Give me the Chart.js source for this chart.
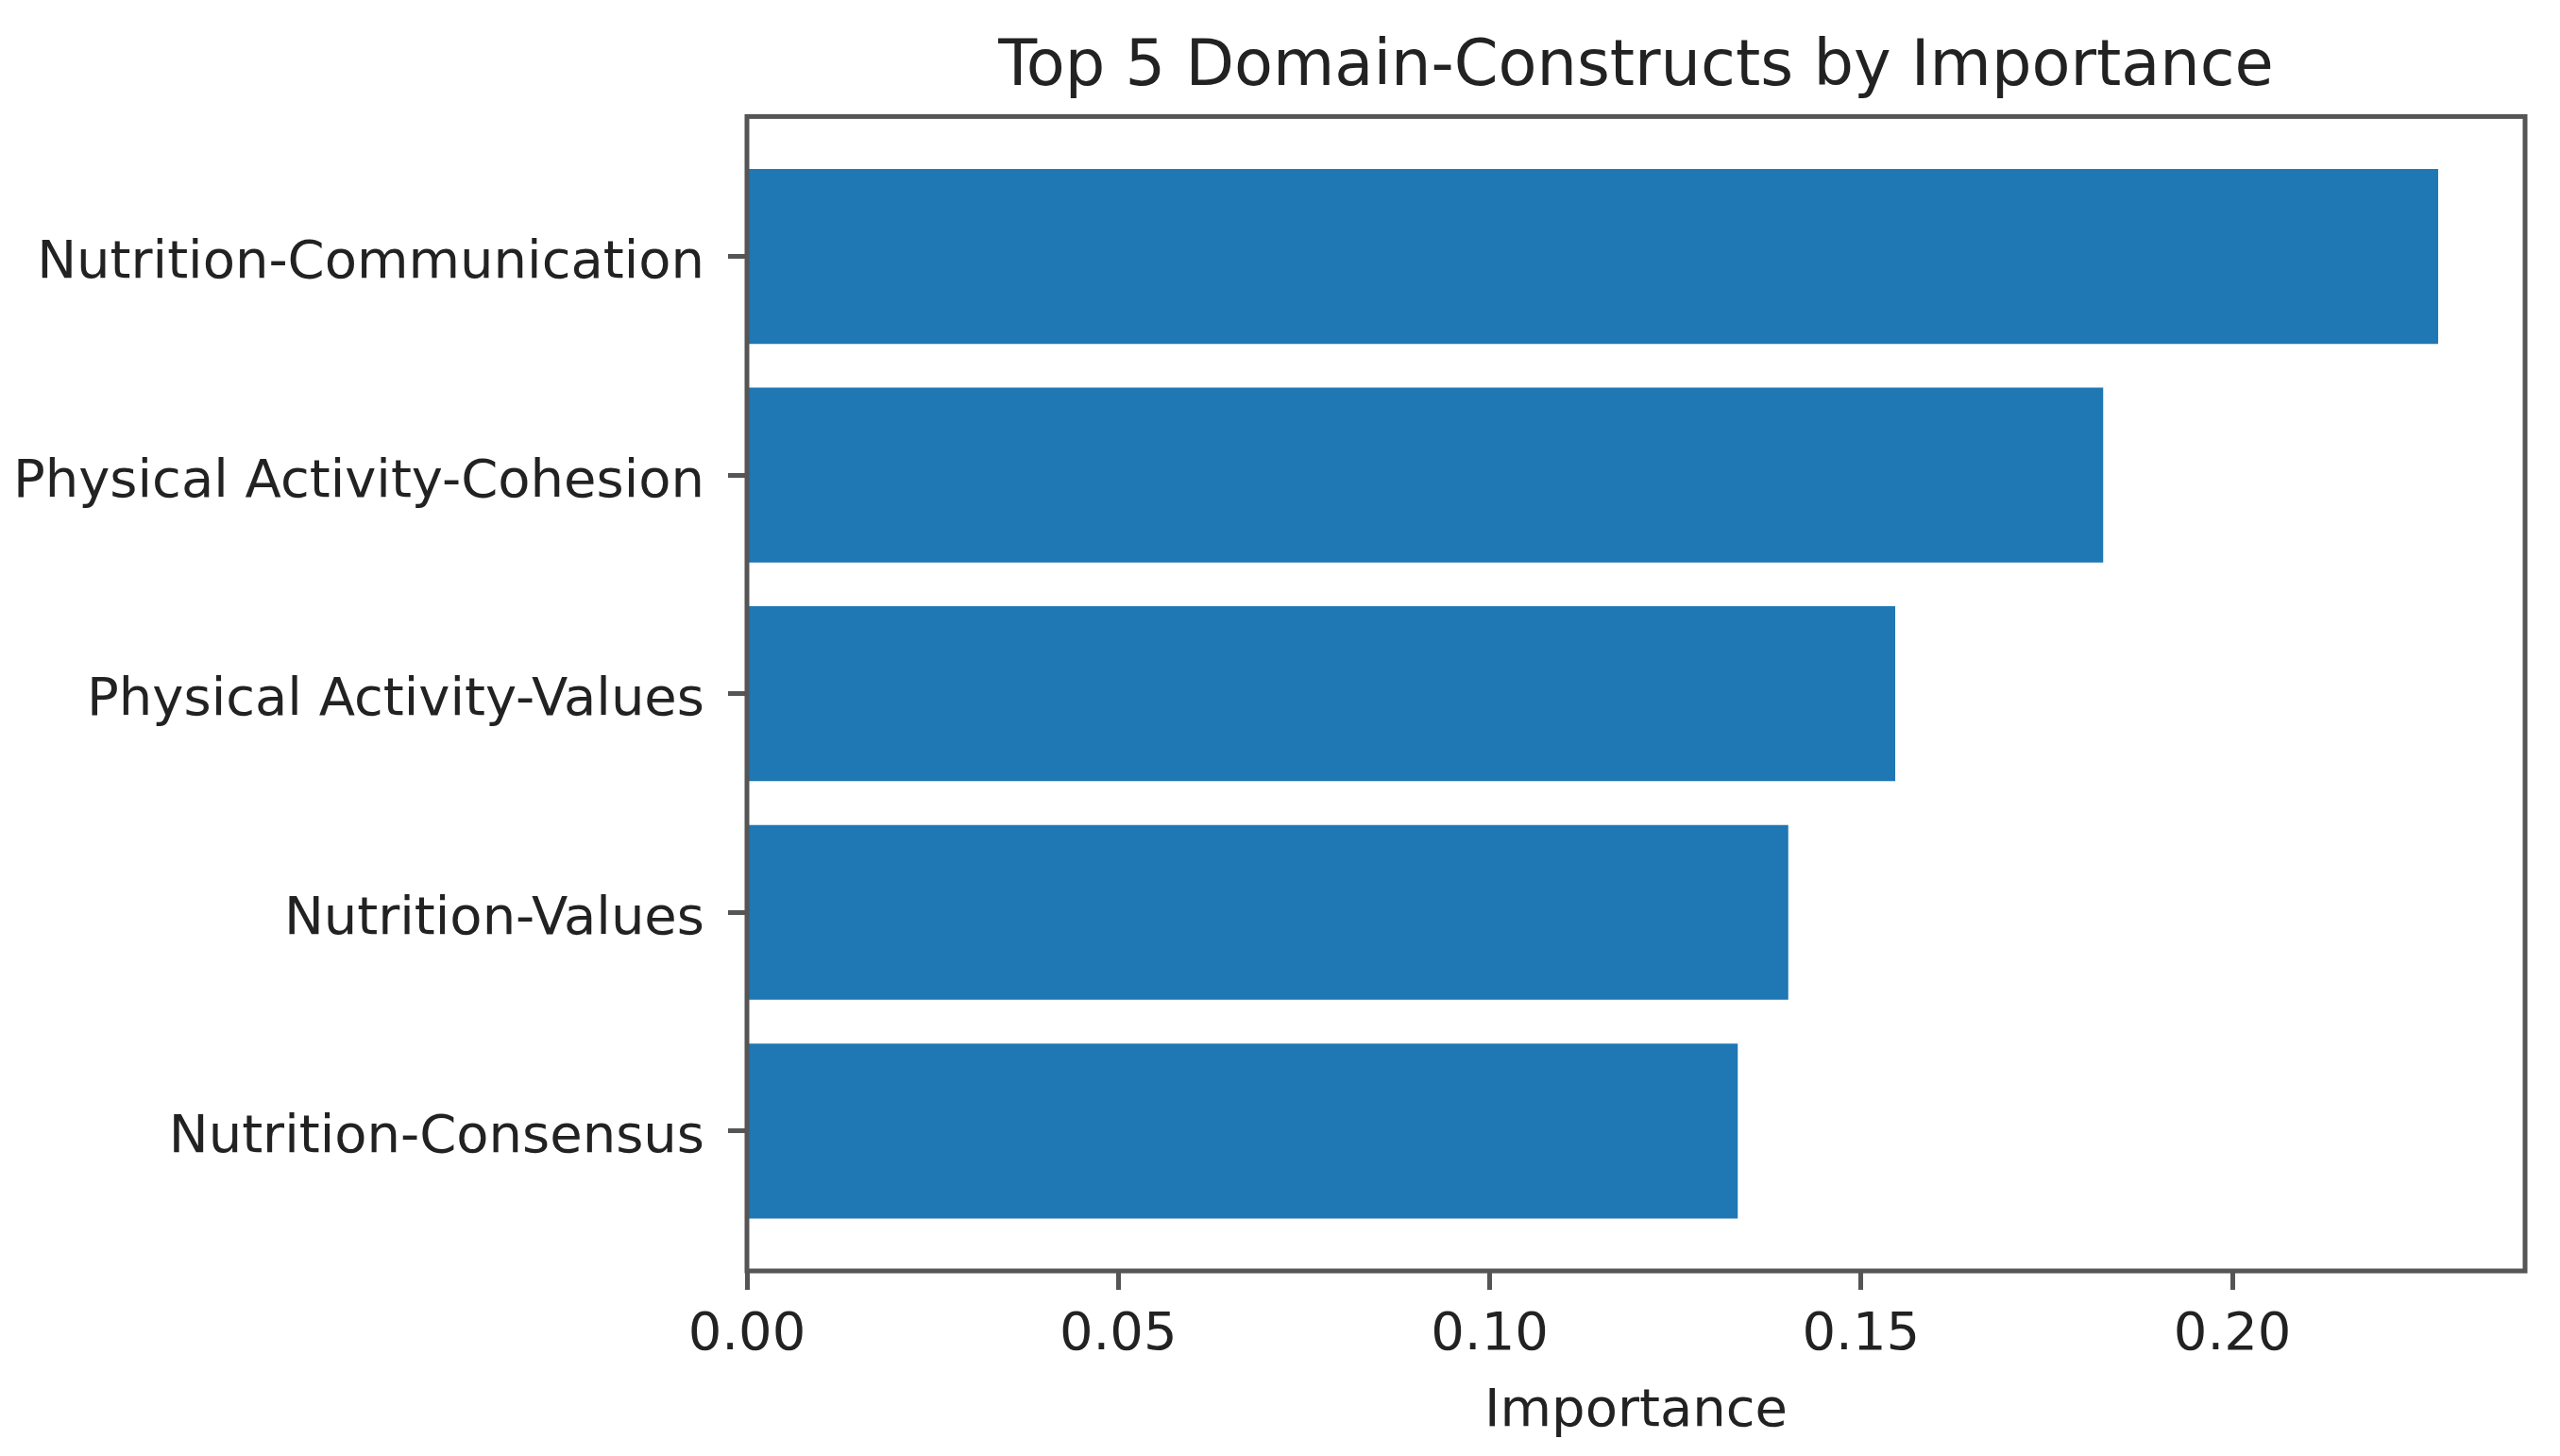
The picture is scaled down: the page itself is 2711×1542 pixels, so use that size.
<!DOCTYPE html>
<html>
<head>
<meta charset="utf-8">
<title>Top 5 Domain-Constructs by Importance</title>
<script src="https://cdn.jsdelivr.net/npm/chart.js@4.4.1/dist/chart.umd.min.js"></script>
<style>
  html, body { margin: 0; padding: 0; background: #fff; }
  #wrap { width: 2711px; height: 1542px; position: relative; }
</style>
</head>
<body>
<div id="wrap"><canvas id="myChart"></canvas></div>
<script>
// values (top bar first)
var constructs = ["Nutrition-Communication", "Physical Activity-Cohesion", "Physical Activity-Values", "Nutrition-Values", "Nutrition-Consensus"];
var importance = [0.2277, 0.1826, 0.1546, 0.1402, 0.1334];
var xTickValues = [0, 0.05, 0.10, 0.15, 0.20];
var xTickLabels = ["0.00", "0.05", "0.10", "0.15", "0.20"];

var axisColor = "#555";
var textColor = "#222";

// draw the full box round the plot area, like matplotlib spines
var frame = {
	id: "frame",
	afterDraw: function(chart) {
		var a = chart.chartArea, c = chart.ctx;
		c.save();
		c.strokeStyle = axisColor;
		c.lineWidth = 5;
		c.strokeRect(a.left, a.top, a.right - a.left, a.bottom - a.top);
		c.restore();
	}
};

var ctx = document.getElementById("myChart").getContext("2d");
var chart = new Chart(ctx, {
	type: "bar",
	data: {
		datasets: [{
			label: "Importance",
			data: importance.map(function(v, i) { return { x: v, y: i }; }),
			backgroundColor: "#1f77b4",
			borderWidth: 0,
			barPercentage: 0.8,
			categoryPercentage: 1
		}]
	},
	options: {
		indexAxis: "y",
		responsive: true,
		maintainAspectRatio: false,
		animation: false,
		layout: { padding: { left: 0, right: 37, top: 0, bottom: 0 } },
		plugins: {
			legend: { display: false },
			tooltip: { enabled: false },
			title: {
				display: true,
				text: "Top 5 Domain-Constructs by Importance",
				fullSize: false,
				color: textColor,
				font: { family: "DejaVu Sans", size: 67, weight: "normal" },
				padding: { top: 32, bottom: 11 }
			}
		},
		scales: {
			x: {
				type: "linear",
				min: 0,
				max: 0.2394,
				afterBuildTicks: function(scale) {
					scale.ticks = xTickValues.map(function(v) { return { value: v }; });
				},
				afterFit: function(scale) { scale.height = 196; },
				grid: {
					drawOnChartArea: false,
					drawTicks: true,
					tickLength: 20,
					tickWidth: 5,
					tickColor: axisColor
				},
				border: { display: false },
				ticks: {
					padding: 15,
					color: textColor,
					font: { family: "DejaVu Sans", size: 56 },
					callback: function(v) {
						var i = xTickValues.indexOf(v);
						return i >= 0 ? xTickLabels[i] : "";
					}
				},
				title: {
					display: true,
					text: "Importance",
					color: textColor,
					font: { family: "DejaVu Sans", size: 56 },
					padding: { top: 0, bottom: 13 }
				}
			},
			y: {
				type: "linear",
				reverse: true,
				offset: false,
				min: -0.64,
				max: 4.64,
				afterBuildTicks: function(scale) {
					scale.ticks = constructs.map(function(_, i) { return { value: i }; });
				},
				afterFit: function(scale) { scale.width = 791; },
				grid: {
					offset: false,
					drawOnChartArea: false,
					drawTicks: true,
					tickLength: 20,
					tickWidth: 5,
					tickColor: axisColor
				},
				border: { display: false },
				ticks: {
					padding: 25,
					labelOffset: 8,
					color: textColor,
					font: { family: "DejaVu Sans", size: 56 },
					callback: function(v) { return constructs[v]; }
				}
			}
		}
	},
	plugins: [frame]
});
</script>
</body>
</html>
